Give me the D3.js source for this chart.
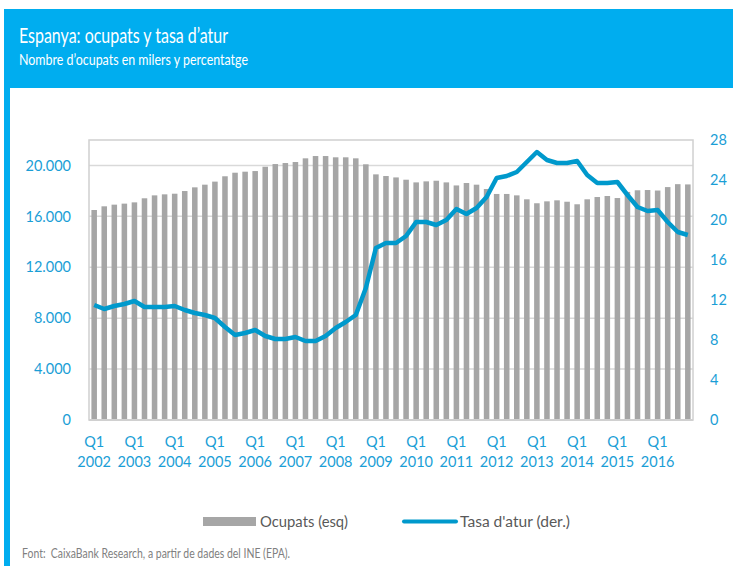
<!DOCTYPE html>
<html>
<head>
<meta charset="utf-8">
<script src="https://cdn.jsdelivr.net/npm/d3@7"></script>
<style>
  body { margin: 0; background: #fff; }
  svg { display: block; font-family: Lato, "Open Sans", sans-serif; }
</style>
</head>
<body>
<div id="chart"></div>
<script>
// Quarterly data, Q1 2002 .. Q4 2016
const years = d3.range(2002, 2017);
const quarters = years.flatMap((y) => [1, 2, 3, 4].map((q) => `${y}Q${q}`));

// Ocupats, thousands (left axis)
const ocupats = [
  16500, 16790, 16920, 17000, 17100, 17420, 17650, 17730,
  17780, 17990, 18280, 18490, 18730, 19150, 19430, 19510,
  19560, 19900, 20110, 20190, 20270, 20560, 20740, 20740,
  20640, 20640, 20560, 20090, 19300, 19170, 19060, 18880,
  18670, 18750, 18800, 18670, 18430, 18620, 18490, 18150,
  17760, 17760, 17650, 17340, 17030, 17180, 17260, 17150,
  16950, 17340, 17520, 17600, 17440, 17920, 18050, 18070,
  18030, 18300, 18530, 18510,
];

// Tasa d'atur, % (right axis)
const tasa = [
  11.5, 11.1, 11.4, 11.6, 11.9, 11.3, 11.3, 11.3,
  11.4, 11.0, 10.7, 10.5, 10.2, 9.3, 8.5, 8.7,
  9.0, 8.4, 8.1, 8.1, 8.3, 7.9, 7.9, 8.4,
  9.2, 9.8, 10.5, 13.2, 17.2, 17.7, 17.7, 18.4,
  19.8, 19.8, 19.5, 20.0, 21.1, 20.6, 21.2, 22.3,
  24.2, 24.4, 24.8, 25.8, 26.8, 26.0, 25.7, 25.7,
  25.9, 24.5, 23.7, 23.7, 23.8, 22.5, 21.3, 20.9,
  21.0, 19.8, 18.8, 18.5,
];

const leftTicks = [0, 4000, 8000, 12000, 16000, 20000];
const rightTicks = [0, 4, 8, 12, 16, 20, 24, 28];

const W = 733, H = 566;
const plot = { left: 89, right: 693, top: 140, bottom: 420 };
const blue = "#00adef";
const lineBlue = "#0099cc";
const labelBlue = "#1a9ed6";
const barGray = "#a6a6a6";

const svg = d3.select("#chart").append("svg").attr("width", W).attr("height", H);

// Header band and left strip
svg.append("rect").attr("x", 4).attr("y", 9).attr("width", W - 4).attr("height", 79).attr("fill", blue);
svg.append("rect").attr("x", 4).attr("y", 87).attr("width", 6).attr("height", H - 87).attr("fill", blue);

svg.append("text")
  .attr("x", 19).attr("y", 42.5)
  .attr("fill", "#fff").attr("font-size", "21px")
  .attr("textLength", 209).attr("lengthAdjust", "spacingAndGlyphs")
  .text("Espanya: ocupats y tasa d’atur");

svg.append("text")
  .attr("x", 19).attr("y", 64.5)
  .attr("fill", "#fff").attr("font-size", "16px")
  .attr("textLength", 229).attr("lengthAdjust", "spacingAndGlyphs")
  .text("Nombre d’ocupats en milers y percentatge");

// Scales
const x = d3.scaleBand().domain(quarters).range([plot.left, plot.right]).paddingInner(0.45).paddingOuter(0.24);
const yL = d3.scaleLinear().domain([0, 22000]).range([plot.bottom, plot.top]);
const yR = d3.scaleLinear().domain([0, 28]).range([plot.bottom, plot.top]);

// Gridlines
svg.append("g")
  .selectAll("line")
  .data(leftTicks.slice(1))
  .enter()
  .append("line")
  .attr("x1", plot.left).attr("x2", plot.right)
  .attr("y1", (d) => yL(d)).attr("y2", (d) => yL(d))
  .attr("stroke", "#d9d9d9").attr("stroke-width", 1.5);

// Frame
svg.append("rect")
  .attr("x", plot.left).attr("y", plot.top)
  .attr("width", plot.right - plot.left).attr("height", plot.bottom - plot.top)
  .attr("fill", "none").attr("stroke", "#d0d0d0").attr("stroke-width", 1.5);

// Bars
svg.append("g")
  .selectAll("rect")
  .data(ocupats)
  .enter()
  .append("rect")
  .attr("x", (d, i) => x(quarters[i]))
  .attr("y", (d) => yL(d))
  .attr("width", x.bandwidth())
  .attr("height", (d) => plot.bottom - yL(d))
  .attr("fill", barGray);

// Bottom axis line
svg.append("line")
  .attr("x1", plot.left).attr("x2", plot.right)
  .attr("y1", plot.bottom).attr("y2", plot.bottom)
  .attr("stroke", "#d0d0d0").attr("stroke-width", 2);

// Unemployment line
const line = d3.line()
  .x((d, i) => x(quarters[i]) + x.bandwidth() / 2)
  .y((d) => yR(d));

svg.append("path")
  .datum(tasa)
  .attr("d", line)
  .attr("fill", "none")
  .attr("stroke", lineBlue)
  .attr("stroke-width", 4.5)
  .attr("stroke-linejoin", "round");

// Axes
const fmt = (d) => d3.format(",")(d).replace(/,/g, ".");

const axL = svg.append("g")
  .attr("transform", `translate(${plot.left - 15},0)`)
  .call(d3.axisLeft(yL).tickValues(leftTicks).tickFormat(fmt).tickSize(0));
const axR = svg.append("g")
  .attr("transform", `translate(${plot.right + 14},0)`)
  .call(d3.axisRight(yR).tickValues(rightTicks).tickSize(0));

[axL, axR].forEach((ax) => {
  ax.select(".domain").remove();
  ax.selectAll("text")
    .attr("fill", labelBlue)
    .attr("font-size", "14.5px")
    .attr("font-family", "Lato, 'Open Sans', sans-serif");
});

// X labels: Q1 of every year
const xLabels = svg.append("g");
years.forEach((y) => {
  const cx = x(`${y}Q1`) + x.bandwidth() / 2;
  const t = xLabels.append("text")
    .attr("x", cx).attr("y", 447)
    .attr("text-anchor", "middle")
    .attr("fill", labelBlue).attr("font-size", "14.5px");
  t.append("tspan").attr("x", cx).attr("dy", 0).text("Q1");
  t.append("tspan").attr("x", cx).attr("dy", 20).text(y);
});

// Legend
svg.append("rect").attr("x", 203).attr("y", 517).attr("width", 53).attr("height", 9).attr("fill", barGray);
svg.append("text").attr("x", 260).attr("y", 526.5).attr("fill", "#595959").attr("font-size", "14.5px")
  .attr("textLength", 88).attr("lengthAdjust", "spacingAndGlyphs").text("Ocupats (esq)");
svg.append("line")
  .attr("x1", 404).attr("x2", 456).attr("y1", 521.5).attr("y2", 521.5)
  .attr("stroke", lineBlue).attr("stroke-width", 4).attr("stroke-linecap", "round");
svg.append("text").attr("x", 460).attr("y", 526.5).attr("fill", "#595959").attr("font-size", "14.5px")
  .attr("textLength", 110).attr("lengthAdjust", "spacingAndGlyphs").text("Tasa d'atur (der.)");

// Source
svg.append("text")
  .attr("x", 22).attr("y", 557.5)
  .attr("fill", "#7f7f7f").attr("font-size", "13px")
  .attr("xml:space", "preserve")
  .attr("textLength", 268).attr("lengthAdjust", "spacingAndGlyphs")
  .text("Font:  CaixaBank Research, a partir de dades del INE (EPA).");
</script>
</body>
</html>
